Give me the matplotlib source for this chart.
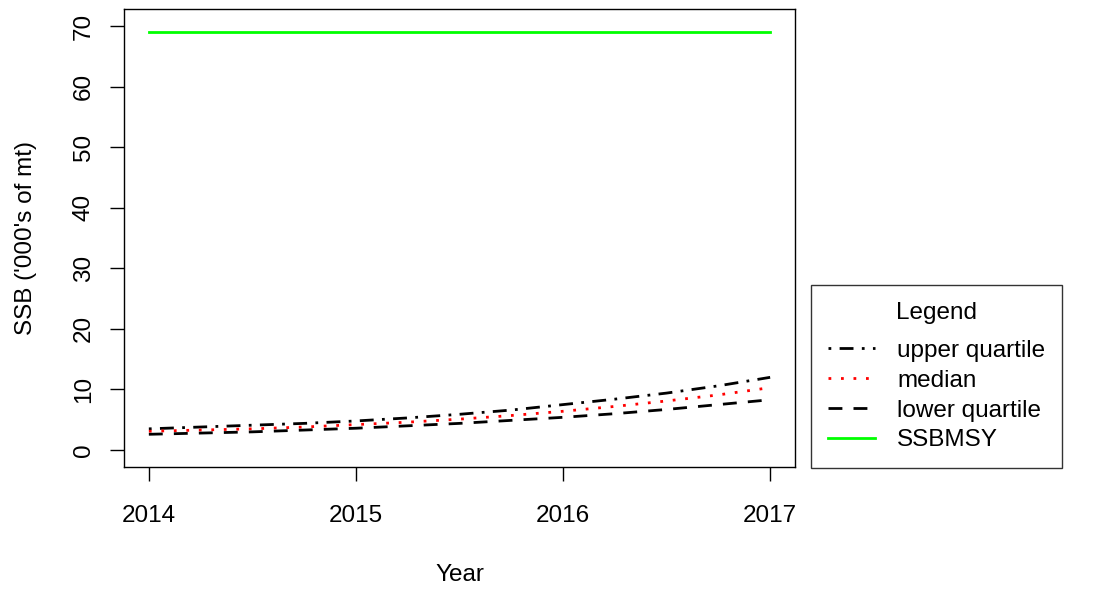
import numpy as np
import matplotlib.pyplot as plt

plt.rcParams['font.family'] = ['Liberation Sans', 'DejaVu Sans']

# quarterly projection points
years = [2014, 2014.25, 2014.5, 2014.75, 2015, 2015.25, 2015.5, 2015.75,
         2016, 2016.25, 2016.5, 2016.75, 2017]
upper_q = [3.5, 3.8, 4.1, 4.4, 4.8, 5.3, 5.9, 6.6, 7.5, 8.4, 9.4, 10.6, 12.0]
median = [3.1, 3.3, 3.5, 3.8, 4.2, 4.6, 5.1, 5.7, 6.4, 7.2, 8.1, 9.1, 10.3]
lower_q = [2.6, 2.8, 3.0, 3.3, 3.6, 4.0, 4.4, 4.9, 5.4, 6.0, 6.7, 7.5, 8.3]
ssbmsy = 69

fs = 17.5

fig = plt.figure(figsize=(11.16, 5.89), dpi=100)
ax = fig.add_axes([124 / 1116, 1 - 467 / 589, (795 - 124) / 1116, (467 - 9) / 589])

lw = 2
ax.plot(years, upper_q, color='black', lw=lw, linestyle=(0, (1, 3, 5, 3)), label='upper quartile')
ax.plot(years, median, color='red', lw=lw, linestyle=(0, (1, 3.5)), label='median')
ax.plot(years, lower_q, color='black', lw=lw, linestyle=(0, (5, 4)), label='lower quartile')
ax.plot([years[0], years[-1]], [ssbmsy, ssbmsy], color='#00ff00', lw=lw, label='SSBMSY')

ax.set_xlim(2014 - 0.12, 2017 + 0.12)
ax.set_ylim(-2.8, 72.8)
ax.set_xticks([2014, 2015, 2016, 2017])
ax.set_yticks(range(0, 71, 10))
ax.tick_params(direction='out', length=10, width=1, labelsize=fs)
ax.tick_params(axis='x', pad=17)
ax.tick_params(axis='y', pad=11)
for lab in ax.get_yticklabels():
    lab.set_rotation(90)
    lab.set_va('center')
for s in ax.spines.values():
    s.set_linewidth(1)

ax.set_xlabel('Year', fontsize=fs, labelpad=27)
ax.set_ylabel("SSB ('000's of mt)", fontsize=fs, labelpad=26)

leg = fig.legend(loc='upper left', bbox_to_anchor=(811 / 1116, 1 - 285 / 589),
                 title='Legend', fontsize=fs, title_fontsize=fs, frameon=True,
                 fancybox=False, edgecolor='black', handlelength=1.95,
                 borderpad=0.7, labelspacing=0.32, handletextpad=0.9,
                 borderaxespad=0)
leg.get_frame().set_linewidth(1)
# wider gap between the title and the entries, as in R's legend
leg._legend_box.sep = 11.5

fig.savefig('out.png', dpi=100)
